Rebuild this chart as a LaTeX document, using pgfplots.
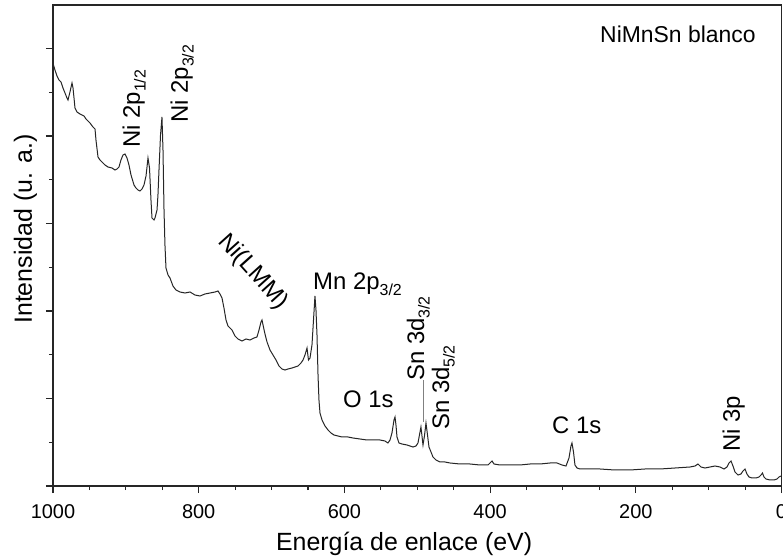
\documentclass[border=0pt]{standalone}
\usepackage{fontspec}
\setmainfont{Liberation Sans}
\usepackage{pgfplots}
\usepackage{pgfplotstable}
\pgfplotsset{compat=1.18}
\newcommand{\sub}[1]{\raisebox{-0.45ex}{\fontsize{16}{16}\selectfont #1}}
\newcommand{\ann}{\fontsize{24}{28}\selectfont}
\pgfplotstableread{
E Y
999.3 421
997.3 416
994.5 410
991.8 406
989.0 404
986.3 398
983.5 393
980.8 388
979.4 386
976.7 394
973.9 403
972.5 398
969.8 378
967.1 374
962.9 372
960.2 371
957.4 370
954.7 367
952.0 365
949.2 363
945.1 359
942.3 357
941.0 346
938.2 329
935.5 326
932.7 324
928.6 321
924.5 319
919.0 318
914.9 316
912.1 317
909.4 319
906.7 326
903.9 331
901.2 332
898.4 328
895.7 321
892.9 311
888.8 301
886.1 298
883.3 296
880.6 295
877.8 297
875.1 301
872.3 310
869.6 328
867.5 318
865.5 286
864.1 268
861.4 266
860.0 268
857.2 276
855.9 291
854.5 316
852.4 351
850.4 369
849.0 336
847.6 276
846.3 241
844.9 218
842.1 211
839.4 208
835.3 200
831.2 196
825.7 194
818.8 193
811.9 194
805.1 191
798.2 190
791.4 192
784.5 193
777.6 194
773.5 195
770.8 192
768.0 188
765.3 178
762.5 166
759.8 160
754.3 156
750.2 150
746.1 147
740.6 145
735.1 147
729.6 146
724.1 148
720.0 149
717.2 156
714.5 164
713.1 166
711.1 159
709.0 152
706.2 144
702.1 136
698.0 131
693.9 126
689.8 120
685.7 117
681.5 116
677.4 117
671.9 118
667.8 119
663.7 120
659.6 123
656.8 126
654.1 131
651.3 138
649.3 126
647.2 128
644.5 141
642.4 166
640.4 190
639.0 176
637.6 151
636.2 111
634.9 86
633.5 73
630.7 66
626.6 60
622.5 56
618.4 53
614.3 51
608.8 50
603.3 49
595.1 49
588.2 48
578.6 47
569.0 46
559.4 46
551.1 46
544.3 45
540.2 43
537.4 46
534.7 53
531.9 66
530.5 69
529.2 61
527.8 49
525.1 43
520.9 42
514.1 41
505.8 39
501.7 40
499.0 43
496.2 54
494.9 59
493.5 50
492.1 41
490.1 50
488.0 63
485.9 51
483.9 39
481.1 34
478.4 29
474.3 26
468.8 24
461.9 24
455.0 23
441.3 22
427.6 22
413.9 21
402.9 21
400.1 23
397.4 25
394.6 22
386.4 21
372.7 21
359.0 21
345.2 22
331.5 22
317.8 23
308.2 23
301.3 21
295.8 20
291.7 28
289.0 40
287.6 43
285.5 34
283.5 21
280.7 18
276.6 17
262.9 17
249.1 17
228.6 16
208.0 16
187.4 17
166.8 17
146.2 18
125.6 19
118.7 20
114.6 22
110.5 19
105.0 18
98.1 19
91.3 20
84.4 19
78.9 17
74.8 19
72.1 23
69.3 25
66.6 20
63.8 14
59.7 11
55.6 12
52.9 15
50.1 17
47.4 12
44.6 9
40.5 8
35.0 8
30.9 9
28.1 11
26.1 13
24.0 9
21.3 7
15.8 6
10.3 6
6.2 7
3.4 9
0.7 10
}\spectrum
\begin{document}
\begin{tikzpicture}
\useasboundingbox (0,0) rectangle (783bp,558bp);
\begin{axis}[
  at={(53bp,72bp)}, anchor=south west,
  scale only axis, width=728.5bp, height=481bp,
  xmin=0, xmax=1000, x dir=reverse,
  ymin=0, ymax=481,
  xtick={0,200,400,600,800,1000}, minor x tick num=3,
  ytick={0,87.5,175,262.5,350,437.5},
  minor ytick={43.75,131.25,218.75,306.25,393.75},
  yticklabels={},
  tick pos=left, tick align=outside,
  major tick length=7bp, minor tick length=4bp,
  axis line style={line width=1.1bp, black!85},
  every tick/.style={line width=1.1bp, black!85},
  ticklabel style={font=\fontsize{20}{24}\selectfont},
  xticklabel style={yshift=-8bp},
  /pgf/number format/assume math mode=true,
  /pgf/number format/1000 sep={},
  xlabel={Energía de enlace (eV)},
  ylabel={Intensidad (u. a.)},
  every axis x label/.style={at={(axis description cs:0.482,-0.1195)}, anchor=center, font=\fontsize{25}{30}\selectfont},
  every axis y label/.style={at={(axis description cs:-0.0378,0.534)}, rotate=90, anchor=center, font=\fontsize{25}{30}\selectfont},
  clip=false,
]
\addplot[black!85, line width=1bp] table[x=E, y=Y] {\spectrum};
\node[font=\ann, rotate=90, anchor=base west, inner sep=0pt] at (axis cs:880.6,338) {Ni 2p\sub{1/2}};
\node[font=\ann, rotate=90, anchor=base west, inner sep=0pt] at (axis cs:814.7,363) {Ni 2p\sub{3/2}};
\node[font=\ann, rotate=-48, anchor=center, inner sep=0pt] at (axis cs:725.5,214) {Ni(LMM)};
\node[font=\ann, anchor=base west, inner sep=0pt] at (axis cs:643.1,196) {Mn 2p\sub{3/2}};
\node[font=\ann, anchor=base west, inner sep=0pt] at (axis cs:601.9,78) {O 1s};
\node[font=\ann, rotate=90, anchor=base west, inner sep=0pt] at (axis cs:490.7,105) {Sn 3d\sub{3/2}};
\draw[black!50, line width=0.9bp] (axis cs:492.1,106) -- (axis cs:492.1,64);
\node[font=\ann, rotate=90, anchor=base west, inner sep=0pt] at (axis cs:456.4,56) {Sn 3d\sub{5/2}};
\node[font=\ann, anchor=base west, inner sep=0pt] at (axis cs:315.0,52) {C 1s};
\node[font=\ann, rotate=90, anchor=base west, inner sep=0pt] at (axis cs:57.0,34) {Ni 3p};
\node[font=\fontsize{23}{28}\selectfont, anchor=base west, inner sep=0pt] at (axis cs:249.1,443) {NiMnSn blanco};
\end{axis}
\end{tikzpicture}
\end{document}
